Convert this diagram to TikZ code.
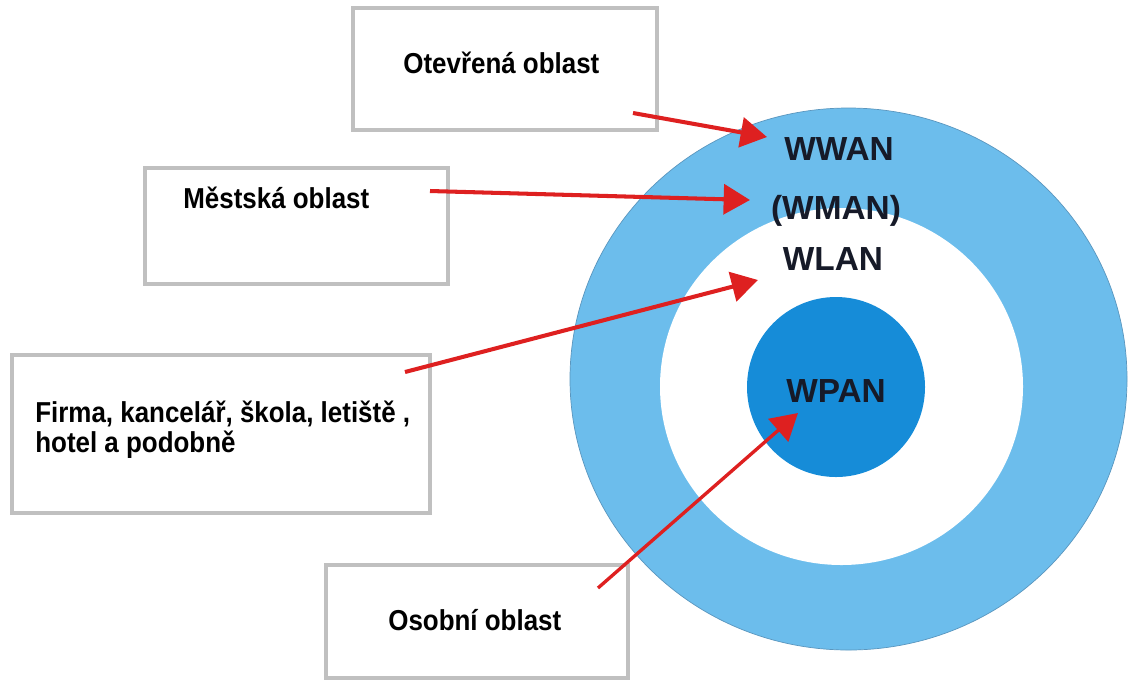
\documentclass[tikz,border=0pt]{standalone}
\usepackage{fontspec}
\setmainfont{Liberation Sans}
\usetikzlibrary{arrows.meta}
\definecolor{ringblue}{RGB}{108,189,236}
\definecolor{ringedge}{RGB}{90,150,190}
\definecolor{corenblue}{RGB}{22,140,216}
\definecolor{arrred}{RGB}{222,32,32}
\definecolor{boxgray}{RGB}{192,192,192}
\definecolor{labelink}{RGB}{22,26,40}
\newcommand{\boxtext}[1]{\scalebox{0.9}[1]{#1}}
\tikzset{
  labelbox/.style={draw=boxgray, line width=1.8pt, fill=white},
  boxlabel/.style={anchor=base west, inner sep=0pt, font=\fontsize{16.4}{17.6}\selectfont\bfseries, text=black},
  ringlabel/.style={anchor=base, inner sep=0pt, font=\fontsize{19}{22}\selectfont\bfseries, text=labelink},
  pointer/.style={draw=arrred, line width=2.3pt, -{Triangle[length=15pt,width=17pt]}},
}
\begin{document}
\begin{tikzpicture}[x=0.02cm, y=-0.02cm]
\useasboundingbox (0,0) rectangle (1135,681);
% rings
\fill[ringblue, draw=ringedge, line width=0.4pt] (848.5,379) ellipse [x radius=278.5, y radius=271];
\fill[white] (841.5,386.5) ellipse [x radius=181.5, y radius=178.5];
\fill[corenblue] (836,387) ellipse [x radius=89, y radius=90];
% boxes
\draw[labelbox] (353,8) rectangle (657,130) node[coordinate] (b1) {};
\draw[labelbox] (145,168) rectangle (448,284) node[coordinate] (b2) {};
\draw[labelbox] (12,355) rectangle (430,513) node[coordinate] (b3) {};
\draw[labelbox] (326,565) rectangle (628,678) node[coordinate] (b4) {};
% box texts
\node[boxlabel] (t1) at (403,73) {\boxtext{Otevřená oblast}};
\node[boxlabel] (t2) at (183,208) {\boxtext{Městská oblast}};
\node[boxlabel] (t3) at (35,422) {\boxtext{\begin{tabular}[t]{@{}l@{}}Firma, kancelář, škola, letiště ,\\ hotel a podobně\end{tabular}}};
\node[boxlabel] (t4) at (388,630) {\boxtext{Osobní oblast}};
% ring labels
\node[ringlabel] (wwan) at (839,160) {WWAN};
\node[ringlabel] (wman) at (836,219) {(WMAN)};
\node[ringlabel] (wlan) at (833,270) {WLAN};
\node[ringlabel] (wpan) at (836,402) {WPAN};
% arrow ends
\coordinate (a1s) at (633,113);
\coordinate (a1e) at (767,137);
\coordinate (a2s) at (430,191);
\coordinate (a2e) at (750,200);
\coordinate (a3s) at (405,372);
\coordinate (a3e) at (758,280);
\coordinate (a4s) at (598,588);
\coordinate (a4e) at (798,413);
\draw[pointer] (a1s) -- (a1e);
\draw[pointer] (a2s) -- (a2e);
\draw[pointer] (a3s) -- (a3e);
\draw[pointer, line width=1.9pt] (a4s) -- (a4e);
\end{tikzpicture}
\end{document}
